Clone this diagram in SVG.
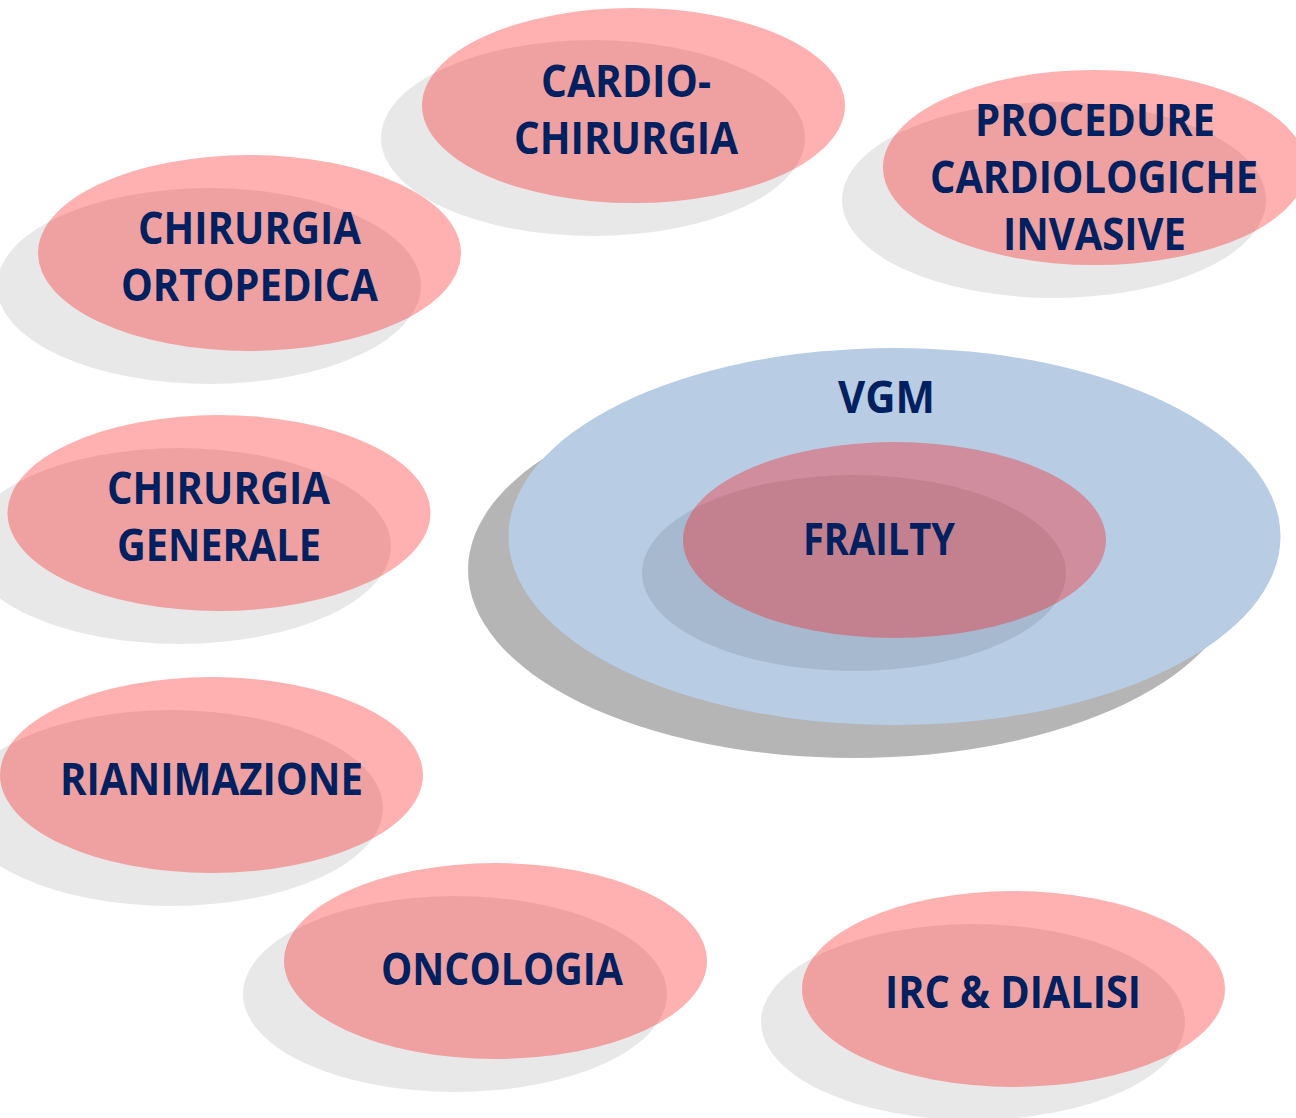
<svg xmlns="http://www.w3.org/2000/svg" width="1296" height="1118" viewBox="0 0 1296 1118">
  <style>
    .shadow { fill: #000000; fill-opacity: 0.09; }
    .shadow-dark { fill: #000000; fill-opacity: 0.29; }
    .pink { fill: #FF0A0A; fill-opacity: 0.32; }
    .blue { fill: #B8CCE4; }
    .label { font-family: "Open Sans", "Noto Sans", "Liberation Sans", sans-serif; font-weight: 700; font-size: 44px; fill: #002060; text-anchor: middle; }
  </style>
  <rect width="1296" height="1118" fill="#FFFFFF"/>

  <!-- outer assessment area with inner frailty core -->
  <g id="vgm">
    <ellipse class="shadow-dark" cx="854" cy="570" rx="386" ry="188"/>
    <ellipse class="blue" cx="894.5" cy="536.5" rx="386" ry="188.5"/>
    <text class="label" x="886.5" y="413" textLength="97" lengthAdjust="spacingAndGlyphs">VGM</text>
  </g>
  <g id="frailty">
    <ellipse class="shadow" cx="854" cy="573" rx="212" ry="98"/>
    <ellipse class="pink" cx="894.5" cy="540" rx="211.5" ry="98"/>
    <text class="label" x="879" y="555" textLength="152" lengthAdjust="spacingAndGlyphs">FRAILTY</text>
  </g>

  <g id="cardiochirurgia">
    <ellipse class="shadow" cx="593" cy="138" rx="212" ry="98"/>
    <ellipse class="pink" cx="633.5" cy="105.5" rx="211.5" ry="97.5"/>
    <text class="label" x="626" y="97" textLength="170" lengthAdjust="spacingAndGlyphs">CARDIO-</text>
    <text class="label" x="626" y="154" textLength="224" lengthAdjust="spacingAndGlyphs">CHIRURGIA</text>
  </g>

  <g id="procedure-cardiologiche">
    <ellipse class="shadow" cx="1054" cy="200" rx="212" ry="98"/>
    <ellipse class="pink" cx="1094.5" cy="167.5" rx="211.5" ry="97.5"/>
    <text class="label" x="1095" y="136" textLength="240" lengthAdjust="spacingAndGlyphs">PROCEDURE</text>
    <text class="label" x="1094" y="193" textLength="328" lengthAdjust="spacingAndGlyphs">CARDIOLOGICHE</text>
    <text class="label" x="1094.5" y="250" textLength="183" lengthAdjust="spacingAndGlyphs">INVASIVE</text>
  </g>

  <g id="chirurgia-ortopedica">
    <ellipse class="shadow" cx="209" cy="286" rx="212" ry="98"/>
    <ellipse class="pink" cx="249.5" cy="253" rx="211.5" ry="98"/>
    <text class="label" x="249.5" y="244" textLength="223" lengthAdjust="spacingAndGlyphs">CHIRURGIA</text>
    <text class="label" x="249.5" y="301" textLength="257" lengthAdjust="spacingAndGlyphs">ORTOPEDICA</text>
  </g>

  <g id="chirurgia-generale">
    <ellipse class="shadow" cx="179" cy="546" rx="212" ry="98"/>
    <ellipse class="pink" cx="219" cy="513" rx="211.5" ry="98"/>
    <text class="label" x="218.5" y="504" textLength="223" lengthAdjust="spacingAndGlyphs">CHIRURGIA</text>
    <text class="label" x="219" y="561" textLength="204" lengthAdjust="spacingAndGlyphs">GENERALE</text>
  </g>

  <g id="rianimazione">
    <ellipse class="shadow" cx="171" cy="808" rx="212" ry="98"/>
    <ellipse class="pink" cx="211.5" cy="775" rx="211.5" ry="98"/>
    <text class="label" x="211.5" y="795" textLength="303" lengthAdjust="spacingAndGlyphs">RIANIMAZIONE</text>
  </g>

  <g id="oncologia">
    <ellipse class="shadow" cx="455" cy="994" rx="212" ry="98"/>
    <ellipse class="pink" cx="495.5" cy="961" rx="211.5" ry="98"/>
    <text class="label" x="502" y="985" textLength="242" lengthAdjust="spacingAndGlyphs">ONCOLOGIA</text>
  </g>

  <g id="irc-dialisi">
    <ellipse class="shadow" cx="973" cy="1022" rx="212" ry="98"/>
    <ellipse class="pink" cx="1013.5" cy="989" rx="211.5" ry="98"/>
    <text class="label" x="1013" y="1008" textLength="256" lengthAdjust="spacingAndGlyphs">IRC &amp; DIALISI</text>
  </g>

  <g id="connectors"/>
</svg>
